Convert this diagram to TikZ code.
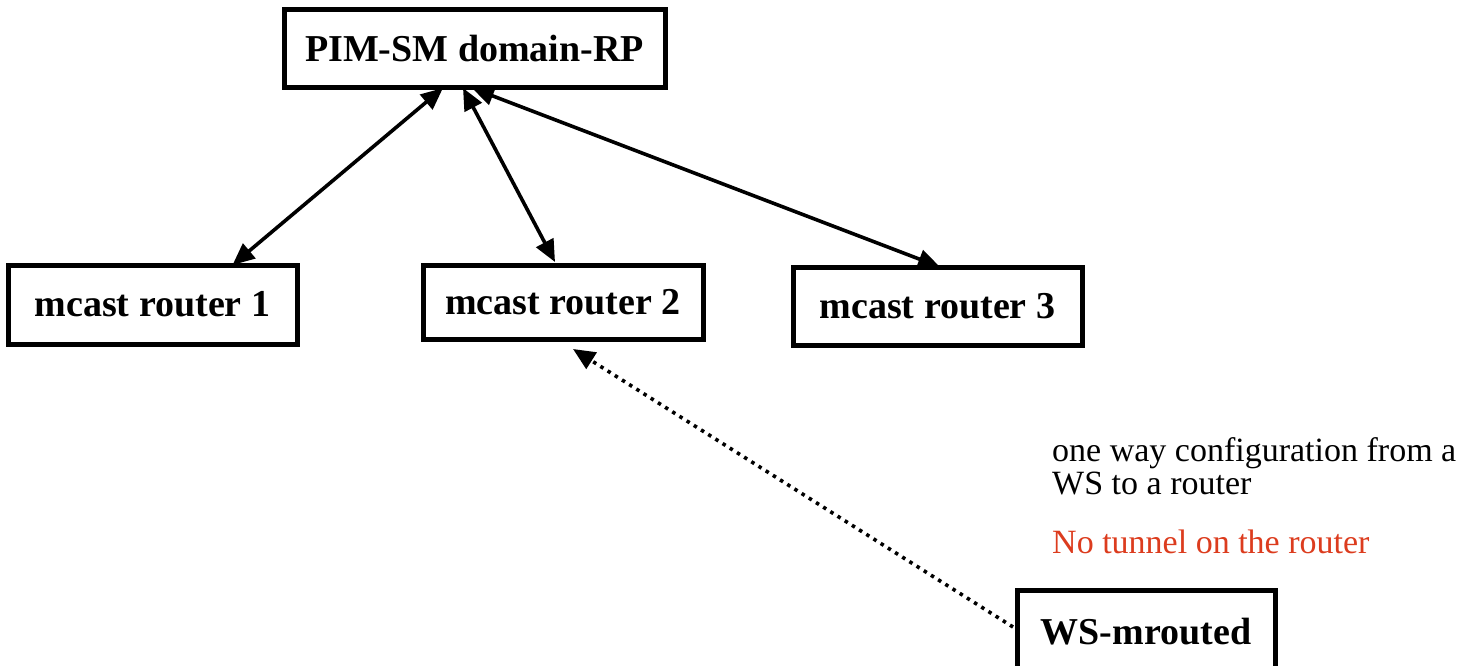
\documentclass[tikz,border=0pt]{standalone}
\usepackage{fontspec}
\setmainfont{Liberation Serif}
\usetikzlibrary{positioning}
\usetikzlibrary{arrows.meta}
\usepackage{xcolor}
\definecolor{notered}{HTML}{DC3C1E}
\tikzset{
	box/.style ={rectangle, draw, line width=5pt, inner sep=0pt, outer sep=0pt, font=\fontsize{38}{45}\selectfont\bfseries},
	link/.style={{Triangle[length=22pt,width=19pt]}-{Triangle[length=22pt,width=19pt]}, line width=3.6pt},
	oneway/.style={-{Triangle[length=22pt,width=19pt]}, line width=3.6pt, dash pattern=on 3.5pt off 5pt},
	note/.style={anchor=north west, align=left, inner sep=0pt, font=\fontsize{34}{33}\selectfont}
}

\begin{document}
\begin{tikzpicture}[x=1pt, y=-1pt]
				\useasboundingbox (0,0) rectangle (1478,666);
				
				\node[box, minimum width=381pt, minimum height=78pt] (rp) at (474.5, 49) {PIM-SM domain-RP};
				\node[box, minimum width=289pt, minimum height=79pt] (r1) at (152.5, 304.5) {mcast router 1};
				\node[box, minimum width=280pt, minimum height=74pt] (r2) at (563, 302) {mcast router 2};
				\node[box, minimum width=289pt, minimum height=78pt] (r3) at (937.5, 306) {mcast router 3};
				\node[box, minimum width=258pt, minimum height=84pt] (ws) at (1146, 632) {WS-mrouted};
				
				\node[note] (cfg) at (1052, 437) {one way configuration from a\\WS to a router};
				\node[note, anchor=base west, notered] (tun) at (1052, 553) {No tunnel on the router};
				
				\draw[link] ([xshift=-31.5pt]rp.south) -- ([xshift=80pt]r1.north);
				\draw[link] ([xshift=-11.5pt]rp.south) -- ([xshift=-8pt,yshift=3pt]r2.north);
				\draw[link] ([xshift=-2.5pt]rp.south) -- ([xshift=2.5pt]r3.north);
				\draw[oneway] ([xshift=-4pt,yshift=5pt]ws.west) -- ([xshift=10pt,yshift=-10pt]r2.south);
				
\end{tikzpicture}
\end{document}
